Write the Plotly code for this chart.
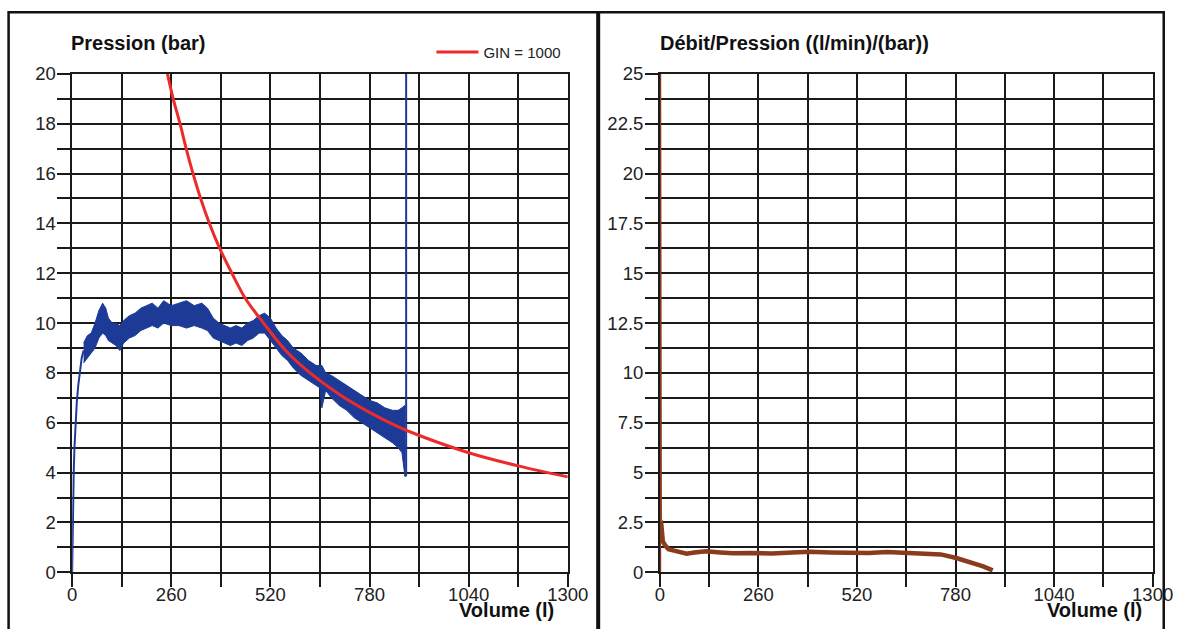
import plotly.graph_objects as go

# ---------------- data ----------------
# Left chart: pressure (bar) vs volume (l)
rise_v = [0, 2, 4, 6, 9, 12, 16, 20, 25, 30]
rise_p = [0, 2.5, 4.0, 5.0, 6.0, 6.8, 7.5, 8.1, 8.6, 8.9]

band_v = [30, 40, 50, 60, 70, 80, 88, 95, 105, 115, 125, 135, 150, 165, 180,
          195, 210, 225, 240, 260, 280, 300, 320, 340, 355, 370, 385, 400,
          415, 430, 445, 460, 475, 490, 505, 520, 535, 550, 565, 580, 600,
          620, 640, 650, 655, 665, 680, 700, 720, 740, 760, 780, 800, 820,
          840, 855, 865, 873]
band_lo = [8.4, 8.6, 8.8, 9.0, 9.4, 9.6, 9.5, 9.3, 9.2, 9.1, 8.9, 9.2, 9.4,
           9.5, 9.7, 9.8, 9.9, 9.8, 10.0, 9.9, 9.9, 9.8, 9.9, 9.8, 9.7, 9.4,
           9.3, 9.2, 9.1, 9.2, 9.1, 9.3, 9.4, 9.6, 9.6, 9.3, 9.0, 8.7, 8.5,
           8.2, 7.9, 7.7, 7.5, 7.4, 6.6, 7.3, 7.0, 6.7, 6.5, 6.2, 6.0, 5.8,
           5.6, 5.4, 5.2, 5.0, 4.8, 3.85]
band_hi = [9.2, 9.5, 9.6, 10.0, 10.5, 10.8, 10.6, 10.2, 10.0, 10.0, 9.9, 10.1,
           10.3, 10.4, 10.6, 10.7, 10.8, 10.6, 10.9, 10.7, 10.8, 10.9, 10.7,
           10.8, 10.6, 10.2, 10.0, 9.9, 9.8, 9.9, 9.8, 10.0, 10.1, 10.3, 10.4,
           10.2, 9.8, 9.5, 9.3, 9.0, 8.8, 8.5, 8.3, 8.3, 8.3, 8.0, 7.9, 7.7,
           7.5, 7.3, 7.1, 6.9, 6.8, 6.6, 6.5, 6.5, 6.6, 6.7]

end_v = [873, 876, 876]
end_p = [3.85, 3.9, 20.5]

gin_v = [250, 265, 283, 299, 317, 337, 360, 387, 419, 454, 502, 560, 620,
         700, 780, 850, 909, 1040, 1170, 1300]
gin_p = [20, 19, 18, 17, 16, 15, 14, 13, 12, 11, 10, 8.9, 8.05, 7.15, 6.42,
         5.88, 5.5, 4.8, 4.27, 3.83]

# Right chart: flow/pressure ((l/min)/(bar)) vs volume (l)
spike_v = [1, 1, 3]
spike_q = [0, 25.5, 2.6]
ratio_v = [3, 5, 8, 15, 23, 35, 51, 71, 91, 122, 160, 193, 240, 295, 350,
           396, 450, 498, 550, 599, 650, 701, 741, 782, 823, 853, 878]
ratio_q = [2.6, 1.9, 1.55, 1.33, 1.16, 1.1, 1.05, 0.93, 0.99, 1.06, 1.0,
           0.96, 0.97, 0.95, 0.99, 1.03, 1.0, 0.99, 0.97, 1.02, 0.99, 0.96,
           0.9, 0.72, 0.5, 0.3, 0.1]

x_ticks = [0, 130, 260, 390, 520, 650, 780, 910, 1040, 1170, 1300]
x_labels = ["0", "", "260", "", "520", "", "780", "", "1040", "", "1300"]
left_y_ticks = list(range(0, 21))
left_y_labels = [str(v) if v % 2 == 0 else "" for v in left_y_ticks]
right_y_ticks = [i * 1.25 for i in range(21)]
right_y_labels = [("%g" % v) if i % 2 == 0 else "" for i, v in enumerate(right_y_ticks)]

# ---------------- figure ----------------
W, H = 1186, 629
# mapping from target picture pixels to page pixels (photo framing)
SX, OX, SY, OY = 0.98, 4.4, 0.970, 9.2


def px(xp):
    return (xp - OX) / SX / W


def py(yp):
    return 1 - (yp - OY) / SY / H


FONT = "Liberation Sans, Arial, sans-serif"
BLUE = "#1c3a96"
RED = "#ee2b2b"
BROWN = "#8a3b1c"

fig = go.Figure()

fig.add_trace(go.Scatter(x=band_v + band_v[::-1], y=band_hi + band_lo[::-1],
                         fill="toself", fillcolor=BLUE, mode="lines",
                         line=dict(color=BLUE, width=1), showlegend=False,
                         xaxis="x", yaxis="y"))
fig.add_trace(go.Scatter(x=rise_v, y=rise_p, mode="lines",
                         line=dict(color=BLUE, width=2), showlegend=False,
                         xaxis="x", yaxis="y"))
fig.add_trace(go.Scatter(x=end_v, y=end_p, mode="lines",
                         line=dict(color=BLUE, width=2), showlegend=False,
                         xaxis="x", yaxis="y"))
fig.add_trace(go.Scatter(x=gin_v, y=gin_p, mode="lines", name="GIN = 1000",
                         line=dict(color=RED, width=3, shape="spline"),
                         showlegend=True, xaxis="x", yaxis="y"))

fig.add_trace(go.Scatter(x=spike_v, y=spike_q, mode="lines",
                         line=dict(color=BROWN, width=2), showlegend=False,
                         xaxis="x2", yaxis="y2"))
fig.add_trace(go.Scatter(x=ratio_v, y=ratio_q, mode="lines",
                         line=dict(color=BROWN, width=4.5), showlegend=False,
                         xaxis="x2", yaxis="y2"))

ydom = [py(572.5), py(72.3)]
base = dict(showgrid=True, gridcolor="#1a1a1a", gridwidth=1.5,
            showline=True, mirror=True, linecolor="#1a1a1a",
            linewidth=1.5, ticks="outside", ticklen=13,
            tickcolor="#1a1a1a", tickwidth=1.5, zeroline=False,
            tickfont=dict(family=FONT, size=18.5, color="#222"))
xax = dict(base, ticklabelstandoff=-8)
yax = dict(base, ticklabelstandoff=-2)

fig.update_layout(
    autosize=True,
    margin=dict(l=0, r=0, t=0, b=0),
    paper_bgcolor="white", plot_bgcolor="white",
    font=dict(family=FONT, color="#222"),
    xaxis=dict(domain=[px(71.7), px(568.3)], range=[0, 1300], tickmode="array",
               tickvals=x_ticks, ticktext=x_labels, anchor="y", **xax),
    yaxis=dict(domain=ydom, range=[0, 20], tickmode="array",
               tickvals=left_y_ticks, ticktext=left_y_labels, anchor="x",
               **yax),
    xaxis2=dict(domain=[px(660.5), px(1154.3)], range=[0, 1300], tickmode="array",
                tickvals=x_ticks, ticktext=x_labels, anchor="y2", **xax),
    yaxis2=dict(domain=ydom, range=[0, 25], tickmode="array",
                tickvals=right_y_ticks, ticktext=right_y_labels, anchor="x2",
                **yax),
    legend=dict(x=436 / W, y=py(50.5), xanchor="left", yanchor="middle",
                bgcolor="rgba(0,0,0,0)",
                font=dict(family=FONT, size=15, color="#222"),
                itemwidth=42),
    showlegend=True,
)

title_font = dict(family=FONT, size=20, color="#111")
fig.add_annotation(text="<b>Pression (bar)</b>", x=px(69), y=py(41),
                   xref="paper", yref="paper", xanchor="left", yanchor="middle",
                   showarrow=False, font=title_font)
fig.add_annotation(text="<b>Débit/Pression ((l/min)/(bar))</b>", x=px(659),
                   y=py(41), xref="paper", yref="paper", xanchor="left",
                   yanchor="middle", showarrow=False, font=title_font)
fig.add_annotation(text="<b>Volume (l)</b>", x=px(556), y=0,
                   xref="paper", yref="paper", xanchor="right", yanchor="bottom",
                   yshift=-4, showarrow=False, font=title_font)
fig.add_annotation(text="<b>Volume (l)</b>", x=px(1146), y=0,
                   xref="paper", yref="paper", xanchor="right", yanchor="bottom",
                   yshift=-4, showarrow=False, font=title_font)

# panel frames
frame = dict(color="#111", width=2.5)
fig.add_shape(type="rect", xref="paper", yref="paper", x0=px(8), x1=px(598),
              y0=-0.1, y1=1 - 1.3 / H, line=frame)
fig.add_shape(type="rect", xref="paper", yref="paper", x0=px(599.5),
              x1=1 - 1.3 / W, y0=-0.1, y1=1 - 1.3 / H, line=frame)

fig.write_html("out.html",
               config={"displayModeBar": False},
               default_width="100vw", default_height="100vh",
               post_script="document.body.style.margin='0';"
                           "document.body.style.overflow='hidden';")
